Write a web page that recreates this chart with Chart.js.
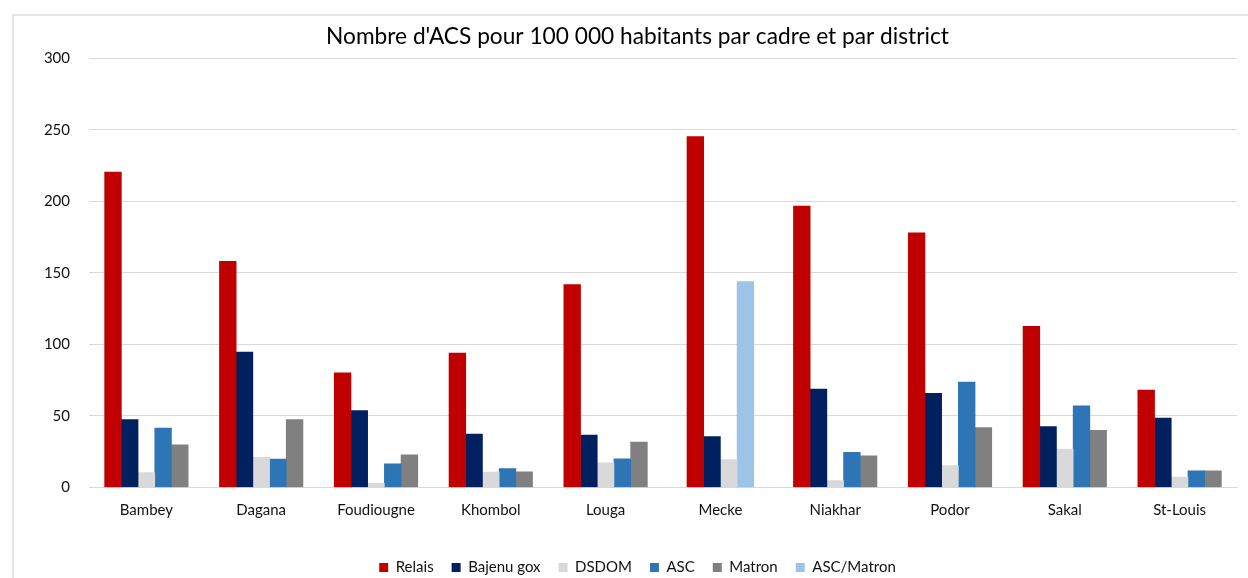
<!DOCTYPE html>
<html>
<head>
<meta charset="utf-8">
<script src="https://cdn.jsdelivr.net/npm/chart.js@4"></script>
<style>
    html, body { margin: 0; padding: 0; background: #fff; }
    #wrap { position: relative; width: 1248px; height: 578px; overflow: hidden; }
    #frame { position: absolute; left: 12px; top: 14px; width: 1300px; height: 700px;
             border-left: 2px solid #e5e5e5; border-top: 2px solid #e5e5e5; }
    #chart { position: absolute; left: 0; top: 0; }
</style>
</head>
<body>
<div id="wrap">
    <div id="frame"></div>
    <canvas id="chart" width="1248" height="578"></canvas>
</div>
<script>
const districts = ['Bambey', 'Dagana', 'Foudiougne', 'Khombol', 'Louga', 'Mecke', 'Niakhar', 'Podor', 'Sakal', 'St-Louis'];
const relais = [220.5, 158, 80.2, 94, 141.9, 245.3, 196.6, 177.9, 112.7, 68];
const bajenuGox = [47.5, 94.7, 53.8, 37.4, 36.7, 35.5, 68.7, 65.9, 42.6, 48.6];
const dsdom = [10.5, 21, 3, 10.8, 17.3, 19.6, 4.9, 15.4, 26.9, 7.2];
const asc = [41.6, 19.9, 16.6, 13.3, 20.1, null, 24.5, 73.6, 57, 11.7];
const matron = [29.9, 47.5, 22.9, 11, 31.8, null, 22.2, 41.9, 40, 11.7];
const ascMatron = [null, null, null, null, null, 144, null, null, null, null];
const yTicks = [0, 50, 100, 150, 200, 250, 300];

Chart.defaults.font.family = 'Lato, "Open Sans", sans-serif';
Chart.defaults.color = '#111';

const ctx = document.getElementById('chart').getContext('2d');

const series = [
    { label: 'Relais', data: relais, color: '#C00000' },
    { label: 'Bajenu gox', data: bajenuGox, color: '#002060' },
    { label: 'DSDOM', data: dsdom, color: '#D9D9D9' },
    { label: 'ASC', data: asc, color: '#2E75B6' },
    { label: 'Matron', data: matron, color: '#808080' },
    { label: 'ASC/Matron', data: ascMatron, color: '#9DC3E6' }
];

new Chart(ctx, {
    type: 'bar',
    data: {
        labels: districts,
        datasets: series.map(s => ({
            label: s.label,
            data: s.data,
            backgroundColor: s.color,
            borderWidth: 0,
            barThickness: 16.7,
            skipNull: true
        }))
    },
    options: {
        responsive: false,
        animation: false,
        devicePixelRatio: 1,
        layout: {
            padding: { left: 38, right: 11, top: 0, bottom: -7 }
        },
        scales: {
            x: {
                grid: { display: false, drawTicks: false },
                border: { display: true, color: '#d9d9d9', width: 1 },
                ticks: { padding: 14, font: { size: 15 }, color: '#111', maxRotation: 0 },
                afterFit: (scale) => { scale.height = 54.5; }
            },
            y: {
                min: 0,
                max: 300,
                afterBuildTicks: (scale) => { scale.ticks = yTicks.map(v => ({ value: v })); },
                grid: { color: '#d9d9d9', lineWidth: 1, drawTicks: false },
                border: { display: false },
                ticks: { padding: 19, font: { size: 15 }, color: '#111' },
                afterFit: (scale) => { scale.width = 51; }
            }
        },
        plugins: {
            title: {
                display: true,
                text: "Nombre d'ACS pour 100 000 habitants par cadre et par district",
                color: '#000',
                font: { size: 22.7, weight: 'normal' },
                padding: { top: 23, bottom: 8 }
            },
            legend: {
                position: 'bottom',
                labels: {
                    boxWidth: 9,
                    boxHeight: 9,
                    padding: 18,
                    font: { size: 15 },
                    color: '#111'
                }
            },
            tooltip: { enabled: false }
        }
    }
});
</script>
</body>
</html>
